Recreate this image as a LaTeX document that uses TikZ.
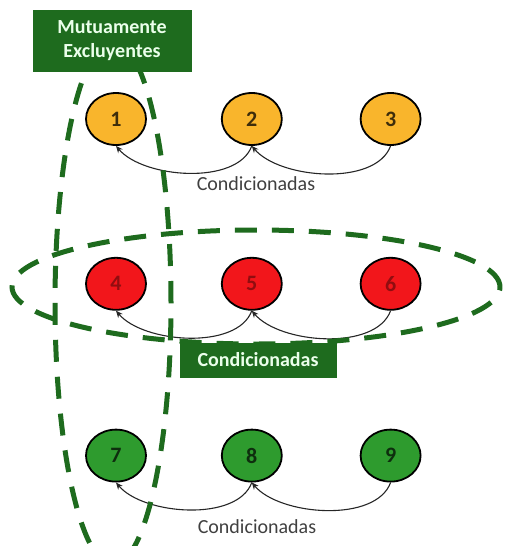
\documentclass[tikz,border=0pt]{standalone}
\usepackage{fontspec}
\setmainfont{Carlito}
\usetikzlibrary{positioning,arrows.meta,shapes.geometric}
\definecolor{amarillo}{HTML}{F9B52C}
\definecolor{rojo}{HTML}{F2161B}
\definecolor{verde}{HTML}{2E9B2E}
\definecolor{verdeosc}{HTML}{1E6B1E}
\begin{document}
\begin{tikzpicture}[x=1pt,y=-1pt,
						nodo/.style={ellipse,draw=black,line width=1.8pt,inner sep=0pt,minimum width=60pt,minimum height=52pt,font=\fontsize{22}{26}\selectfont\bfseries},
						nodoAm/.style={nodo,fill=amarillo,text=black!75!amarillo},
						nodoRo/.style={nodo,fill=rojo,text=rojo!60!black},
						nodoVe/.style={nodo,fill=verde,text=verde!30!black},
						flecha/.style={-{Stealth[length=7pt,width=6pt]},line width=1.1pt,black!85},
						grupo/.style={draw=verdeosc,line width=5pt,dash pattern=on 22pt off 15pt},
						caja/.style={fill=verdeosc,text=green!8!white,inner sep=0pt,font=\fontsize{20}{24}\selectfont\bfseries},
						texto/.style={text=black!75,font=\fontsize{20}{24}\selectfont}]
		\useasboundingbox (0,0) rectangle (506,546);
		\node[nodoAm]	at (116,119)				(1)	{1};
		\node[nodoAm,right=74pt of 1]			(2)	{2};
		\node[nodoAm,right=77pt of 2]			(3)	{3};
		\node[nodoRo,below=111pt of 1]			(4)	{4};
		\node[nodoRo,right=74pt of 4]			(5)	{5};
		\node[nodoRo,right=77pt of 5]			(6)	{6};
		\node[nodoVe,below=118pt of 4]			(7)	{7};
		\node[nodoVe,right=74pt of 7]			(8)	{8};
		\node[nodoVe,right=77pt of 8]			(9)	{9};

		\draw[flecha] (2.south) to[out=-110,in=-50,looseness=0.8] (1.south);
		\draw[flecha] (3.south) to[out=-110,in=-50,looseness=0.8] (2.south);
		\draw[flecha] (5.south) to[out=-110,in=-50,looseness=0.8] (4.south);
		\draw[flecha] (6.south) to[out=-110,in=-50,looseness=0.8] (5.south);
		\draw[flecha] (8.south) to[out=-110,in=-50,looseness=0.8] (7.south);
		\draw[flecha] (9.south) to[out=-110,in=-50,looseness=0.8] (8.south);

		\node[texto] at (256,184)	(c1)	{Condicionadas};
		\node[texto] at (257,527)	(c3)	{Condicionadas};

		% grupos
		\draw[grupo] (256,287) ellipse [x radius=244pt,y radius=57pt];
		\draw[grupo] (113,303) ellipse [x radius=58pt,y radius=262pt];

		\node[caja,minimum width=157pt,minimum height=35pt] at (258,360)	(c2)	{Condicionadas};
		\node[caja,minimum width=159pt,minimum height=62pt,align=center] at (112,41)	(mutex)	{Mutuamente\\Excluyentes};
\end{tikzpicture}
\end{document}
